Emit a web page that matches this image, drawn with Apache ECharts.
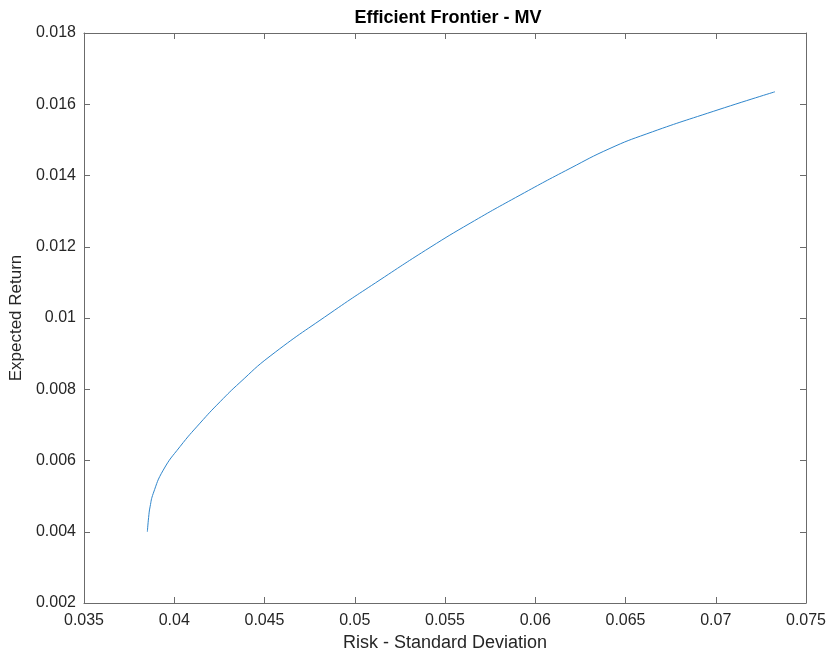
<!DOCTYPE html>
<html>
<head>
<meta charset="utf-8">
<script src="https://cdn.jsdelivr.net/npm/echarts@6/dist/echarts.min.js"></script>
<style>
  html, body { margin: 0; padding: 0; background: #fff; }
  #main { width: 826px; height: 653px; }
</style>
</head>
<body>
<div id="main"></div>
<script>
// frontier points
var risk = [0.03851, 0.03858, 0.03866, 0.03884, 0.03939, 0.04032, 0.04143, 0.04254,
            0.04364, 0.04531, 0.04863, 0.05140, 0.05417, 0.05639, 0.05916, 0.06193,
            0.06414, 0.06618, 0.06986, 0.07328];
var ret = [0.00400, 0.00440, 0.00470, 0.00508, 0.00573, 0.00639, 0.00705, 0.00765,
           0.00819, 0.00893, 0.01013, 0.01107, 0.01198, 0.01266, 0.01345, 0.01420,
           0.01476, 0.01517, 0.01580, 0.01635];

var xTicks = { min: 0.035, max: 0.075, step: 0.005 };
var yTicks = { min: 0.002, max: 0.018, step: 0.002 };

var fmt = function (v) { return String(parseFloat(v.toFixed(4))); };

var data = [];
for (var i = 0; i < risk.length; i++) data.push([risk[i], ret[i]]);

var axisColor = '#6b6b6b';
var font = 'Liberation Sans, Arial, sans-serif';

function xAx(show, pos) {
    return {
        type: 'value', position: pos, min: xTicks.min, max: xTicks.max, interval: xTicks.step,
        axisLine: { show: true, onZero: false, lineStyle: { color: axisColor, width: 1 } },
        axisTick: { show: true, inside: true, length: 6, lineStyle: { color: axisColor } },
        axisLabel: { show: show, formatter: fmt, color: '#262626', fontSize: 16, fontFamily: font, margin: 10 },
        splitLine: { show: false },
        name: show ? 'Risk - Standard Deviation' : '',
        nameLocation: 'middle', nameGap: 30,
        nameTextStyle: { color: '#262626', fontSize: 18, fontFamily: font }
    };
}
function yAx(show, pos) {
    return {
        type: 'value', position: pos, min: yTicks.min, max: yTicks.max, interval: yTicks.step,
        axisLine: { show: true, onZero: false, lineStyle: { color: axisColor, width: 1 } },
        axisTick: { show: true, inside: true, length: 6, lineStyle: { color: axisColor } },
        axisLabel: { show: show, formatter: fmt, color: '#262626', fontSize: 16, fontFamily: font, margin: 8 },
        splitLine: { show: false },
        name: show ? 'Expected Return' : '',
        nameLocation: 'middle', nameGap: 56,
        nameTextStyle: { color: '#262626', fontSize: 17, fontFamily: font }
    };
}

var myChart = echarts.init(document.getElementById('main'));
var option = {
    backgroundColor: '#ffffff',
    animation: false,
    title: {
        text: 'Efficient Frontier - MV',
        left: 443, top: 4, textAlign: 'center',
        textStyle: { fontSize: 18, fontWeight: 'bold', color: '#000', fontFamily: font }
    },
    grid: { left: 84, right: 20, top: 33, bottom: 50, containLabel: false, outerBoundsMode: 'none' },
    xAxis: [xAx(true, 'bottom'), xAx(false, 'top')],
    yAxis: [yAx(true, 'left'), yAx(false, 'right')],
    series: [{
        type: 'line',
        xAxisIndex: 0, yAxisIndex: 0,
        data: data,
        smooth: 0.5,
        showSymbol: false,
        lineStyle: { color: '#2f86cc', width: 1 }
    }]
};
myChart.setOption(option);
</script>
</body>
</html>
